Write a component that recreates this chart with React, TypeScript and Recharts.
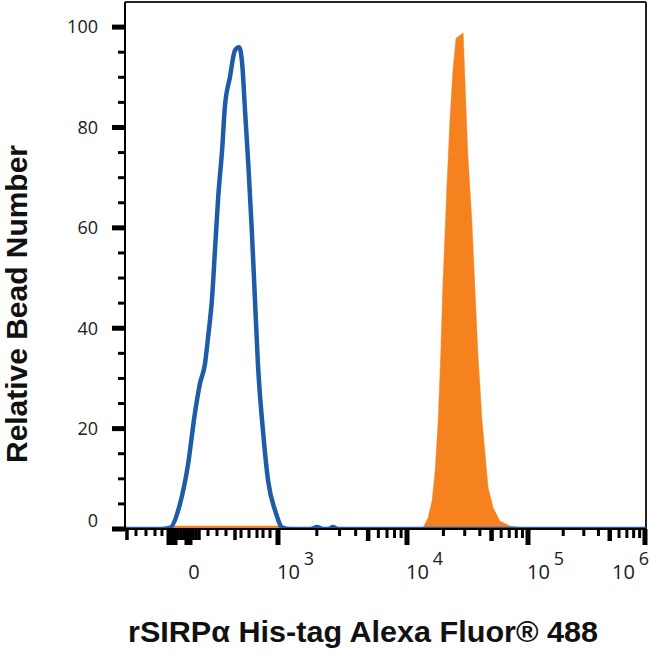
import React from 'react';
import { ComposedChart, Line, Area, XAxis, YAxis, ReferenceLine } from 'recharts';

// Histogram data in instrument channel units (0-1023) vs relative bead number
const blueChannel = [0, 71, 88, 108, 124, 137, 147, 157, 163, 171, 177, 183, 191, 196, 206, 216, 224, 230, 236, 242, 249, 255, 261, 271, 281, 295, 310, 324, 365, 377, 389, 400, 408, 418, 1023];
const blueCount = [0, 0, 0.2, 5.0, 13.0, 22.9, 28.9, 32.9, 38.1, 46.1, 56.1, 66.1, 76.0, 84.0, 90.0, 95.4, 96.0, 92.8, 82.8, 72.9, 59.5, 46.1, 32.9, 19.5, 9.6, 3.6, 0.2, 0, 0, 0.4, 0, 0, 0.4, 0, 0];

const orangeChannel = [0, 69, 84, 314, 324, 569, 585, 595, 603, 609, 615, 620, 624, 632, 638, 644, 650, 664, 668, 673, 681, 687, 693, 701, 707, 713, 723, 736, 756, 781, 789, 1023];
const orangeCount = [0, 0, 0.6, 0.6, 0, 0, 0.2, 2.2, 5.6, 11.6, 21.6, 34.9, 48.1, 68.1, 81.4, 91.4, 97.8, 98.8, 88.0, 74.9, 61.5, 48.1, 34.9, 21.6, 15.0, 8.2, 4.2, 1.6, 0.6, 0.2, 0, 0];

// Axis structure (channel positions of decades 10^3..10^6 and lower logicle ticks)
const decadeChannels = [300.4, 553.7, 791.3, 1021];
const decadeExponents = ['3', '4', '5', '6'];
const zeroLabelChannel = 135.5;
const lowTickChannels = [3.9, 21.6, 41.2, 58.9, 72.6, 86.4, 92.3, 98.2, 104.1, 110, 115.8, 121.7, 127.6, 133.5, 139.4, 145.3, 163, 180.6, 198.3, 216, 227.8, 243.5, 259.2, 271, 284.7];
const lowTickKinds = ['m', 's', 's', 's', 's', 'L', 'L', 'L', 'm', 'm', 'm', 'L', 'L', 'm', 'm', 'm', 's', 's', 's', 'm', 'n', 'n', 'n', 'n', 'n'];
const yTicks = [0, 5, 10, 15, 20, 25, 30, 35, 40, 45, 50, 55, 60, 65, 70, 75, 80, 85, 90, 95, 100];
const yLabels = [0, 20, 40, 60, 80, 100];

type TickDef = { v: number; kind: string; label?: string; sup?: string; dx?: number };

const xTickDefs: TickDef[] = [];
lowTickChannels.forEach((v, i) => xTickDefs.push({ v, kind: lowTickKinds[i] }));
decadeChannels.forEach((d, n) => {
  xTickDefs.push({ v: d, kind: 'L', label: '10', sup: decadeExponents[n], dx: n === 3 ? -33 : -1 });
  if (n < decadeChannels.length - 1) {
    const next = decadeChannels[n + 1];
    for (let k = 2; k <= 9; k++) {
      xTickDefs.push({ v: d + Math.log10(k) * (next - d), kind: k === 5 ? 'f' : k >= 6 ? 'n' : 's' });
    }
  }
});
xTickDefs.push({ v: zeroLabelChannel, kind: 'none', label: '0' });
const xTickValues = xTickDefs.map((t) => t.v).sort((a, b) => a - b);

// merged table
const chSet = Array.from(new Set([...blueChannel, ...orangeChannel])).sort((a, b) => a - b);
const data = chSet.map((ch) => {
  const bi = blueChannel.indexOf(ch);
  const oi = orangeChannel.indexOf(ch);
  return {
    ch,
    blue: bi >= 0 ? blueCount[bi] : undefined,
    orange: oi >= 0 ? orangeCount[oi] : undefined,
  };
});

const lenOf: Record<string, number> = { L: 16, f: 12, m: 11, n: 9, s: 7, none: 0 };
const widthOf: Record<string, number> = { L: 5, f: 4.5, m: 3.5, n: 3, s: 3, none: 0 };

const XTick = (props: any) => {
  const { x, y, payload } = props;
  const def = xTickDefs.find((t) => Math.abs(t.v - payload.value) < 0.01);
  if (!def) return null;
  const len = lenOf[def.kind];
  const w = widthOf[def.kind];
  return (
    <g>
      {len > 0 && <rect x={x - w / 2} y={y} width={w} height={len} fill="#000" />}
      {def.label && !def.sup && (
        <text x={x} y={y + 50} textAnchor="middle" fontSize={20} fontFamily="'Open Sans', sans-serif" fill="#1a1a1a">
          {def.label}
        </text>
      )}
      {def.label && def.sup && (
        <text x={x + (def.dx || 0)} y={y + 50} textAnchor="start" fontSize={20} fontFamily="'Open Sans', sans-serif" fill="#1a1a1a">
          {def.label}
          <tspan dx={4} dy={-14} fontSize={18}>{def.sup}</tspan>
        </text>
      )}
    </g>
  );
};

const YTick = (props: any) => {
  const { x, y, payload } = props;
  const major = yLabels.includes(payload.value);
  return (
    <g>
      {major ? (
        <rect x={x - 13} y={y - 2.5} width={13} height={5} fill="#000" />
      ) : (
        <rect x={x - 7} y={y - 1.5} width={7} height={3} fill="#000" />
      )}
      {major && (
        <text x={98} y={payload.value === 0 ? y - 8 : y} dy="0.35em" textAnchor="end" fontSize={18} fontFamily="'Open Sans', sans-serif" fill="#1a1a1a">
          {payload.value}
        </text>
      )}
    </g>
  );
};

export default function App() {
  return (
    <div style={{ position: 'absolute', left: 0, top: 0, width: 650, height: 653, background: '#fff' }}>
      <ComposedChart width={650} height={653} data={data} margin={{ top: 2, right: 4, bottom: 0, left: 0 }}>
        <XAxis
          dataKey="ch"
          type="number"
          domain={[0, 1023]}
          allowDataOverflow
          ticks={xTickValues}
          interval={0}
          tick={<XTick />}
          tickLine={false}
          tickSize={0}
          tickMargin={0}
          height={124}
          axisLine={{ stroke: '#000', strokeWidth: 2 }}
          label={{
            content: () => (
              <text x={363} y={642} textAnchor="middle" fontSize={30} fontWeight="bold" fontFamily="'Liberation Sans', Arial, sans-serif" fill="#111" textLength={470} lengthAdjust="spacingAndGlyphs">
                rSIRPα His-tag Alexa Fluor® 488
              </text>
            ),
          }}
        />
        <YAxis
          type="number"
          domain={[0, 105]}
          allowDataOverflow
          ticks={yTicks}
          interval={0}
          tick={<YTick />}
          tickLine={false}
          tickSize={0}
          tickMargin={0}
          width={125}
          axisLine={{ stroke: '#000', strokeWidth: 2 }}
          label={{
            content: () => (
              <text x={27} y={304} transform="rotate(-90, 27, 304)" textAnchor="middle" fontSize={30} fontWeight="bold" fontFamily="'Liberation Sans', Arial, sans-serif" fill="#111" textLength={318} lengthAdjust="spacingAndGlyphs">
                Relative Bead Number
              </text>
            ),
          }}
        />
        <ReferenceLine y={105} stroke="#222" strokeWidth={2} ifOverflow="extendDomain" />
        <ReferenceLine x={1023} stroke="#222" strokeWidth={2} ifOverflow="extendDomain" />
        <Area
          dataKey="orange"
          type="linear"
          fill="#f5821f"
          fillOpacity={1}
          stroke="#f5821f"
          strokeWidth={0.5}
          connectNulls
          isAnimationActive={false}
          dot={false}
          activeDot={false}
        />
        <Line
          dataKey="blue"
          type="monotone"
          stroke="#1f5ca8"
          strokeWidth={4.5}
          connectNulls
          isAnimationActive={false}
          dot={false}
          activeDot={false}
        />
      </ComposedChart>
    </div>
  );
}
